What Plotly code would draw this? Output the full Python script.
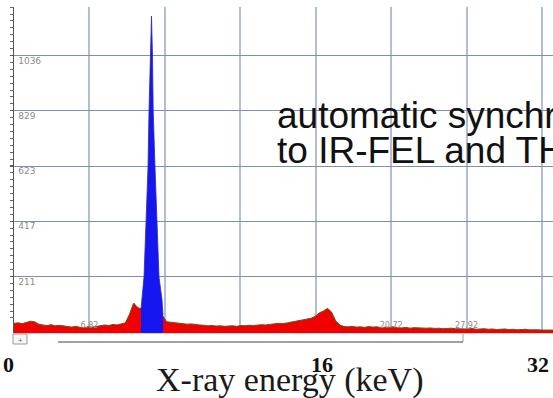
import plotly.graph_objects as go

# ---------------- data ----------------
# background spectrum (red), energy in keV, counts
bg_energy = [i * 0.25 for i in range(131)] + [32.67]
bg_counts = [
    36, 38, 35, 40, 44, 42, 33, 30, 28, 31, 27, 29, 26, 24, 22, 25,
    21, 20, 23, 22, 24, 27, 30, 28, 32, 30, 33, 38, 70, 112, 95, 88,
    84, 80, 76, 72, 66, 42, 40, 37, 36, 35, 33, 34, 31, 30, 29, 27,
    28, 26, 27, 25, 26, 27, 25, 28, 27, 29, 28, 30, 31, 30, 33, 34,
    36, 35, 37, 40, 42, 45, 47, 50, 55, 62, 75, 82, 92, 78, 45, 30,
    24, 23, 25, 22, 23, 21, 24, 22, 23, 20, 22, 21, 23, 20, 19, 21,
    18, 20, 19, 17, 18, 19, 17, 18, 16, 17, 18, 16, 15, 16, 15, 17,
    14, 15, 16, 14, 15, 13, 14, 15, 13, 14, 12, 13, 14, 12, 13, 12,
    11, 12, 11, 11,
]

# selected region of interest (blue peak)
roi_energy = [7.697, 7.758, 7.879, 8.000, 8.121, 8.182, 8.273, 8.333,
              8.394, 8.436, 8.545, 8.667, 8.788, 8.970, 9.030]
roi_counts = [88, 123, 209, 410, 620, 829, 1034, 1183,
              1034, 829, 620, 410, 209, 123, 67]

# axis ticks / labels
grid_energy = [4.571, 9.143, 13.714, 18.286, 22.857, 27.429, 32.0]
grid_labels = ["6.82", "", "", "", "20.72", "27.92", "32.02"]
count_ticks = [211, 417, 623, 829, 1036]
count_labels = ["211", "417", "623", "829", "1036"]

slide_ticks = ["0", "16", "32"]
slide_tick_x = [0.0145, 0.5814, 0.9720]
axis_title = "X-ray energy (keV)"
note_lines = ["automatic synchronization", "to IR-FEL and THz"]

W, H = 553, 398

fig = go.Figure()
fig.add_trace(go.Scatter(
    x=bg_energy, y=bg_counts, mode="lines", fill="tozeroy",
    fillcolor="#f20000", line=dict(color="#5f5a1c", width=1),
    showlegend=False, hoverinfo="skip"))
fig.add_trace(go.Scatter(
    x=roi_energy, y=roi_counts, mode="lines", fill="tozeroy",
    fillcolor="#1616f0", line=dict(color="#2a2ab0", width=0.8),
    showlegend=False, hoverinfo="skip"))

x0 = 14 / W
fig.update_layout(
    width=W, height=H,
    margin=dict(l=0, r=0, t=0, b=0),
    paper_bgcolor="white", plot_bgcolor="white",
    showlegend=False,
    xaxis=dict(
        domain=[x0, 1], range=[0, 32.667],
        tickmode="array", tickvals=grid_energy, ticktext=grid_labels,
        ticklabelposition="inside", ticks="", ticklabelstandoff=2,
        tickfont=dict(family="DejaVu Sans", size=8, color="#8a8a8a"),
        showgrid=True, gridcolor="#b3bed4", gridwidth=1.5,
        showline=True, linecolor="#cfcfcf", linewidth=1,
        zeroline=False, fixedrange=True,
    ),
    yaxis=dict(
        domain=[65 / H, 391 / H], range=[0, 1217],
        tickmode="array", tickvals=count_ticks, ticktext=count_labels,
        ticklabelposition="inside", ticklabelshift=5, ticklabelstandoff=3,
        ticks="outside", ticklen=3, tickcolor="#555",
        minor=dict(tick0=211, dtick=25.78, ticks="outside", ticklen=3,
                   tickcolor="#666", showgrid=False),
        tickfont=dict(family="DejaVu Sans", size=9, color="#8a8a8a"),
        showgrid=True, gridcolor="#7d8eb0", gridwidth=1,
        showline=True, linecolor="#555", linewidth=1,
        zeroline=False, fixedrange=True,
    ),
)

# scroll bar / button under the plot
def px(x, y):
    return x / W, 1 - y / H

shapes = []
bx0, by0 = px(13, 334)
bx1, by1 = px(27, 344)
shapes.append(dict(type="rect", xref="paper", yref="paper", x0=bx0, y0=by1,
                   x1=bx1, y1=by0, line=dict(color="#9a9a9a", width=1),
                   fillcolor="#f6f6f6"))
sx0, sy = px(58, 342)
sx1, sy_top = px(463, 334)
shapes.append(dict(type="line", xref="paper", yref="paper", x0=sx0, y0=sy,
                   x1=sx1, y1=sy, line=dict(color="#808080", width=1.5)))
shapes.append(dict(type="line", xref="paper", yref="paper", x0=sx1, y0=sy,
                   x1=sx1, y1=sy_top, line=dict(color="#a0a0a0", width=1)))
fig.update_layout(shapes=shapes)

ann = []
ann.append(dict(text="+", xref="paper", yref="paper", x=20 / W, y=1 - 339 / H,
                showarrow=False, font=dict(size=8, color="#666"),
                xanchor="center", yanchor="middle"))
for t, xx in zip(slide_ticks, slide_tick_x):
    ann.append(dict(text="<b>%s</b>" % t, xref="paper", yref="paper", x=xx,
                    y=1 - 364.6 / H, showarrow=False, xanchor="center",
                    yanchor="middle",
                    font=dict(family="Liberation Serif", size=22, color="#111")))
ann.append(dict(text=axis_title, xref="paper", yref="paper", x=289.5 / W,
                y=1 - 379.5 / H, showarrow=False, xanchor="center",
                yanchor="middle",
                font=dict(family="Liberation Serif", size=34, color="#1a1a1a")))
for line, base in zip(note_lines, [128.3, 163.3]):
    ann.append(dict(text=line, xref="paper", yref="paper", x=275 / W,
                    y=1 - (base - 12.8) / H, showarrow=False, xanchor="left",
                    yanchor="middle",
                    font=dict(family="Liberation Sans", size=37, color="#111")))
fig.update_layout(annotations=ann)

fig.write_html("out.html")
